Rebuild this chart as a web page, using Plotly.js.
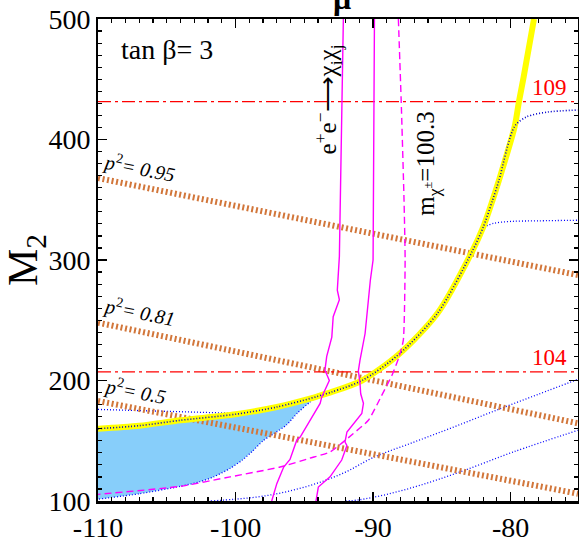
<!DOCTYPE html>
<html>
<head>
<meta charset="utf-8">
<script src="https://cdn.plot.ly/plotly-3.0.1.min.js"></script>
<style>html,body{margin:0;padding:0;background:#fff;}#chart{width:579px;height:545px;}</style>
</head>
<body>
<div id="chart"></div>
<script>
// ---- data (mu, M2) ----
const yellowMu = [-110, -107, -104, -100, -97, -94.6, -94, -93, -90.8, -88.1, -85.3, -82.8, -82.0, -81.3, -80.85, -79.7, -79.4, -79.05, -78.3];
const yellowM2 = [160, 162.5, 167, 172, 178, 185, 187, 190.5, 200, 222, 256, 307, 327, 350, 366, 411, 431, 452, 500];

const fillLowerMu = [-94, -94.6, -95.5, -96.3, -97.2, -98, -98.8, -99.5, -100.4, -101.6, -102.6, -104, -107, -110];
const fillLowerM2 = [187, 182, 173, 163, 156, 150, 141, 134, 127, 120, 116, 112.2, 106, 101.5];

const leftDotMu = [-110, -104, -101.5, -100.6, -100];
const leftDotM2 = [176, 174.2, 173.5, 173, 172];

const branchUpperMu = [-79.7, -78.8, -77.3, -75.1];
const branchUpperM2 = [411, 419, 422.8, 424.5];
const branchMidMu = [-81.95, -81.2, -80, -78, -75.1];
const branchMidM2 = [327.5, 330.5, 332, 332.5, 333];

const lowDotAMu = [-101.8, -100, -98, -96, -94, -92, -90, -87, -84, -81, -78, -75.1];
const lowDotAM2 = [100, 101.5, 104, 108.5, 115, 124, 136, 149, 162, 175.5, 188.5, 201];
const lowDotBMu = [-92, -91, -89, -86.6, -83.7, -79.8, -75.1];
const lowDotBM2 = [100, 101, 105.5, 113, 124, 140.7, 158.7];

const p2Labels = ['0.95', '0.81', '0.5'];
const p2Mu = [-110, -75.1];
const p2StartM2 = [368, 248, 183];
const p2EndM2 = [287.5, 164.5, 106];

const higgsLabels = ['109', '104'];
const higgsM2 = [431.4, 207.1];

const mag1Mu = [-92.16, -92.3, -92.45, -92.6, -92.45, -92.9, -93.0, -93.37, -93.5, -93.18, -93.73, -93.85, -94.58, -95.3, -95.55, -96.04, -96.5, -97.0, -97.37];
const mag1M2 = [500, 400, 303, 275, 267, 253, 236, 220, 208.5, 200, 186.4, 181, 167, 153, 150.4, 134.5, 128.2, 114.4, 100];
const mag2Mu = [-89.9, -89.95, -90.0, -90.2, -90.58, -90.95, -91.07, -90.95, -90.9, -90.7, -90.82, -91.9, -92.04, -91.9, -92.28, -93.13, -93.98, -94.15];
const mag2M2 = [500, 400, 300, 283, 239, 217, 208, 197.5, 189, 181, 172.6, 157.3, 149, 146, 134, 120, 111.6, 100];
const magDashMu = [-88.16, -87.95, -87.75, -87.67, -87.8, -88.1, -88.6, -89.4, -90.34, -91.43, -93.13, -94.6, -96.76, -100.4, -104, -110];
const magDashM2 = [500, 430, 350, 300, 233.5, 220, 205, 187, 167, 156, 140.7, 135.5, 128.2, 120, 112.2, 105.5];

const xTickVals = [-110, -100, -90, -80];
const xTickText = ['-110', '-100', '-90', '-80'];
const yTickVals = [100, 200, 300, 400, 500];
const yTickText = ['100', '200', '300', '400', '500'];

// ---- build traces ----
const SERIF = 'Liberation Serif, Times New Roman, serif';
const BLUE_DOT = {color: '#0000ff', width: 1.3, dash: '1px,2px'};
const traces = [];

const tipIdx = yellowMu.indexOf(-94);
const fillMu = yellowMu.slice(0, tipIdx + 1).concat(fillLowerMu.slice(1));
const fillM2 = yellowM2.slice(0, tipIdx + 1).concat(fillLowerM2.slice(1));
traces.push({x: fillMu, y: fillM2, mode: 'lines', fill: 'toself', fillcolor: '#87cefa', line: {width: 0, shape: 'spline', smoothing: 0.6}, hoverinfo: 'skip'});
traces.push({x: fillLowerMu, y: fillLowerM2, mode: 'lines', line: Object.assign({shape: 'spline', smoothing: 0.6}, BLUE_DOT)});
traces.push({x: leftDotMu, y: leftDotM2, mode: 'lines', line: BLUE_DOT});
traces.push({x: lowDotAMu, y: lowDotAM2, mode: 'lines', line: Object.assign({shape: 'spline'}, BLUE_DOT)});
traces.push({x: lowDotBMu, y: lowDotBM2, mode: 'lines', line: Object.assign({shape: 'spline'}, BLUE_DOT)});
traces.push({x: branchMidMu, y: branchMidM2, mode: 'lines', line: Object.assign({shape: 'spline'}, BLUE_DOT)});

for (let i = 0; i < p2Labels.length; i++) {
  traces.push({x: p2Mu, y: [p2StartM2[i], p2EndM2[i]], mode: 'lines', line: {color: '#d2763a', width: 6, dash: '2px,2.6px'}});
}
for (let i = 0; i < higgsLabels.length; i++) {
  traces.push({x: p2Mu, y: [higgsM2[i], higgsM2[i]], mode: 'lines', line: {color: '#ff0000', width: 1.3, dash: '13px,4px,3px,4px'}});
}
traces.push({x: yellowMu, y: yellowM2, mode: 'lines', line: {color: '#ffff00', width: 6, shape: 'spline', smoothing: 0.8}});
const bandEnd = yellowMu.indexOf(-79.7);
traces.push({x: yellowMu.slice(0, bandEnd + 1).concat(branchUpperMu.slice(1)), y: yellowM2.slice(0, bandEnd + 1).concat(branchUpperM2.slice(1)), mode: 'lines', line: {color: '#0000cc', width: 1.6, dash: '1px,2px', shape: 'spline', smoothing: 0.8}});
traces.push({x: mag1Mu, y: mag1M2, mode: 'lines', line: {color: '#ff00ff', width: 1.4}});
traces.push({x: mag2Mu, y: mag2M2, mode: 'lines', line: {color: '#ff00ff', width: 1.4}});
traces.push({x: magDashMu, y: magDashM2, mode: 'lines', line: {color: '#ff00ff', width: 1.4, dash: '7px,4px', shape: 'spline', smoothing: 0.5}});

// ---- annotations ----
const ann = [];
ann.push({x: -105.0, y: 475, xref: 'x', yref: 'y', text: 'tan β= 3', showarrow: false, font: {family: SERIF, size: 28, color: '#000'}});
for (let i = 0; i < higgsLabels.length; i++) {
  ann.push({x: -77.2, y: higgsM2[i] + 12, xref: 'x', yref: 'y', text: higgsLabels[i], showarrow: false, font: {family: SERIF, size: 23, color: '#ff0000'}});
}
const p2LabelPos = [[-106.95, 377], [-106.95, 257], [-107.3, 192]];
for (let i = 0; i < p2Labels.length; i++) {
  ann.push({x: p2LabelPos[i][0], y: p2LabelPos[i][1], xref: 'x', yref: 'y', text: '<i>p</i><sup>2</sup><i>= ' + p2Labels[i] + '</i>', showarrow: false, textangle: 11, font: {family: SERIF, size: 20, color: '#000'}});
}
ann.push({x: -93.3, y: 433, xref: 'x', yref: 'y', text: 'e<sup>+</sup>e<sup>−</sup>⟶χ<sub>i</sub>χ<sub>j</sub>', showarrow: false, textangle: -90, font: {family: SERIF, size: 25, color: '#000'}});
ann.push({x: -86.0, y: 380, xref: 'x', yref: 'y', text: 'm<sub>χ<sup>±</sup></sub>=100.3', showarrow: false, textangle: -90, font: {family: SERIF, size: 25, color: '#000'}});
ann.push({x: -92.27, y: 1.002, xref: 'x', yref: 'paper', yanchor: 'bottom', text: '<b>μ</b>', showarrow: false, font: {family: SERIF, size: 32, color: '#000'}});

const axisCommon = {
  showgrid: false, zeroline: false, showline: true, linecolor: '#000', mirror: 'ticks',
  ticks: 'inside', ticklen: 9, tickwidth: 1.5, tickcolor: '#000',
  tickfont: {family: SERIF, size: 28, color: '#000'}
};

const layout = {
  width: 579, height: 545,
  margin: {l: 98, r: 1, t: 19, b: 44},
  paper_bgcolor: '#fff', plot_bgcolor: '#fff',
  showlegend: false,
  xaxis: Object.assign({}, axisCommon, {
    range: [-110, -75.1], tickvals: xTickVals, ticktext: xTickText, linewidth: 2.5,
    minor: {dtick: 1, ticks: 'inside', ticklen: 4, tickwidth: 1.2, tickcolor: '#000'}
  }),
  yaxis: Object.assign({}, axisCommon, {
    range: [100, 500], tickvals: yTickVals, ticktext: yTickText, linewidth: 2,
    minor: {dtick: 10, ticks: 'inside', ticklen: 4, tickwidth: 1.2, tickcolor: '#000'},
    title: {text: 'M<sub>2</sub>', font: {family: SERIF, size: 42, color: '#000'}, standoff: 6}
  }),
  annotations: ann
};

Plotly.newPlot('chart', traces, layout, {staticPlot: true, displayModeBar: false});
</script>
</body>
</html>
